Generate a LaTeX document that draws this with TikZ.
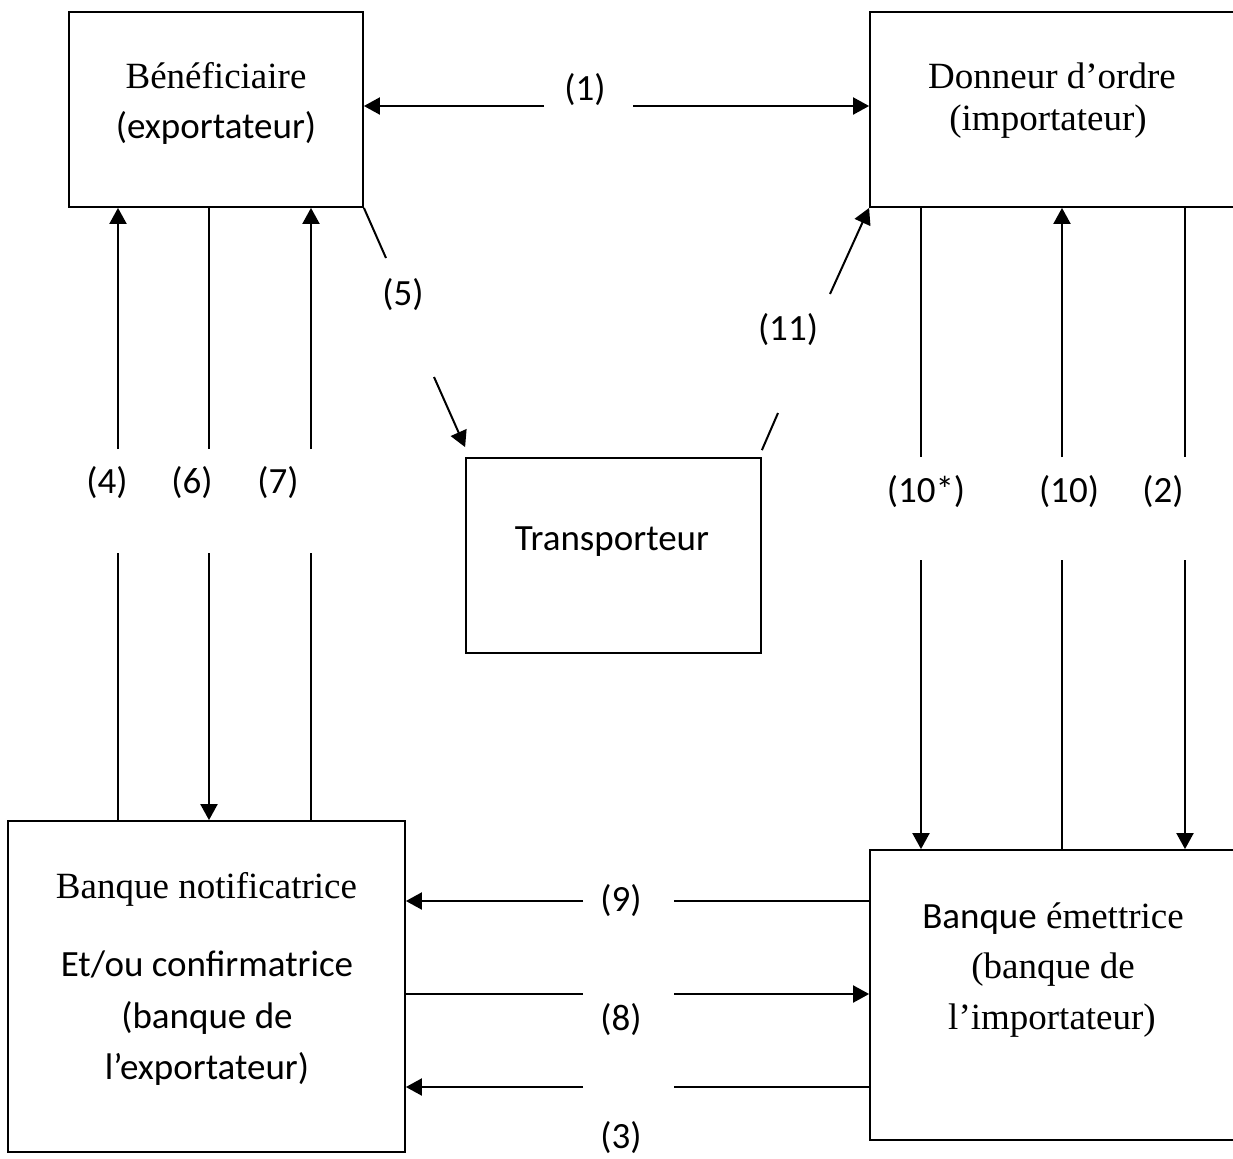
\documentclass[tikz,border=0pt]{standalone}
\usepackage{fontspec}
\setmainfont{Liberation Serif}
\newfontfamily\carlito{Carlito}
\usetikzlibrary{arrows.meta,calc}

\tikzset{
  box/.style={draw, rectangle, line width=0.9pt, inner sep=0pt},
  serif/.style={anchor=base, inner sep=0pt, font=\fontsize{18.5}{22}\selectfont},
  sans/.style={anchor=base, inner sep=0pt, font=\carlito\fontsize{18.5}{22}\selectfont},
  num/.style={inner sep=0pt, font=\carlito\fontsize{18.5}{22}\selectfont},
  flow/.style={line width=1pt},
  arr/.style={line width=1pt, -{Triangle[width=8.5pt,length=8pt]}},
  both/.style={line width=1pt, {Triangle[width=8.5pt,length=8pt]}-{Triangle[width=8.5pt,length=8pt]}}
}

\begin{document}
\begin{tikzpicture}[x=0.5pt, y=-0.5pt]

\path[fill=white, use as bounding box] (0,0) rectangle (1233,1158);

% boxes
\node[box, minimum width=147pt, minimum height=97.5pt] (benef) at (216,109.5) {};
\node[box, minimum width=190pt, minimum height=97.5pt] (donneur) at (1060,109.5) {};
\node[box, minimum width=147.5pt, minimum height=97.5pt] (transp) at (613.5,555.5) {};
\node[box, minimum width=198.5pt, minimum height=165.5pt] (notif) at (206.5,986.5) {};
\node[box, minimum width=190pt, minimum height=145pt] (emet) at (1060,995) {};

% texts
\node[serif] (benef-a) at (216,88) {Bénéficiaire};
\node[sans] (benef-b) at (216,138) {(exportateur)};

\node[serif] (donneur-a) at (1052,88) {Donneur d’ordre};
\node[serif] (donneur-b) at (1048,130) {(importateur)};

\node[sans] (transp-a) at (612,550) {Transporteur};

\node[serif] (notif-a) at (206.5,898) {Banque notificatrice};
\node[sans] (notif-b) at (207,976) {Et/ou confirmatrice};
\node[sans] (notif-c) at (207,1028) {(banque de};
\node[sans] (notif-d) at (207,1079) {l’exportateur)};

\node[serif] (emet-a) at (1053,928) {{\carlito Banque} émettrice};
\node[serif] (emet-b) at (1053,978) {(banque de};
\node[serif] (emet-c) at (1052,1029) {l’importateur)};

% numbers
\node[num] (n1) at (585,90) {(1)};
\node[num] (n4) at (107,483) {(4)};
\node[num] (n6) at (192,483) {(6)};
\node[num] (n7) at (278,483) {(7)};
\node[num] (n5) at (403,295) {(5)};
\node[num] (n11) at (788,330) {(11)};
\node[num] (n10s) at (926,492) {(10*)};
\node[num] (n10) at (1069,492) {(10)};
\node[num] (n2) at (1163,492) {(2)};
\node[num] (n9) at (621,901) {(9)};
\node[num] (n8) at (621,1020) {(8)};
\node[num] (n3) at (621,1138) {(3)};

% gap ends
\coordinate (g1l) at (544,106);
\coordinate (g1r) at (633,106);
\coordinate (g4t) at (118,449);
\coordinate (g4b) at (118,553);
\coordinate (g6t) at (209,449);
\coordinate (g6b) at (209,553);
\coordinate (g7t) at (311,449);
\coordinate (g7b) at (311,553);
\coordinate (g10st) at (921,457);
\coordinate (g10sb) at (921,560);
\coordinate (g10t) at (1062,457);
\coordinate (g10b) at (1062,560);
\coordinate (g2t) at (1185,457);
\coordinate (g2b) at (1185,560);
\coordinate (g5a) at (386,258);
\coordinate (g5b) at (434,377);
\coordinate (g11a) at (778,413);
\coordinate (g11b) at (830,294);
\coordinate (g9l) at (583,901);
\coordinate (g9r) at (674,901);
\coordinate (g8l) at (583,994);
\coordinate (g8r) at (674,994);
\coordinate (g3l) at (583,1087);
\coordinate (g3r) at (674,1087);

% (1)
\draw[arr] (g1l) -- (benef.east |- g1l);
\draw[arr] (g1r) -- (donneur.west |- g1r);

% left side
\draw[flow] (notif.north -| g4b) -- (g4b);
\draw[arr] (g4t) -- (benef.south -| g4t);
\draw[flow] (benef.south -| g6t) -- (g6t);
\draw[arr] (g6b) -- (notif.north -| g6b);
\draw[flow] (notif.north -| g7b) -- (g7b);
\draw[arr] (g7t) -- (benef.south -| g7t);

% right side
\draw[flow] (donneur.south -| g10st) -- (g10st);
\draw[arr] (g10sb) -- (emet.north -| g10sb);
\draw[flow] (emet.north -| g10b) -- (g10b);
\draw[arr] (g10t) -- (donneur.south -| g10t);
\draw[flow] (donneur.south -| g2t) -- (g2t);
\draw[arr] (g2b) -- (emet.north -| g2b);

% transporteur
\draw[flow] (benef.south east) -- (g5a);
\draw[arr] (g5b) -- ([yshift=5pt]transp.north west);
\draw[flow] ([yshift=3.5pt]transp.north east) -- (g11a);
\draw[arr] (g11b) -- (donneur.south west);

% banks
\draw[flow] (emet.west |- g9r) -- (g9r);
\draw[arr] (g9l) -- (notif.east |- g9l);
\draw[flow] (notif.east |- g8l) -- (g8l);
\draw[arr] (g8r) -- (emet.west |- g8r);
\draw[flow] (emet.west |- g3r) -- (g3r);
\draw[arr] (g3l) -- (notif.east |- g3l);

\end{tikzpicture}
\end{document}
